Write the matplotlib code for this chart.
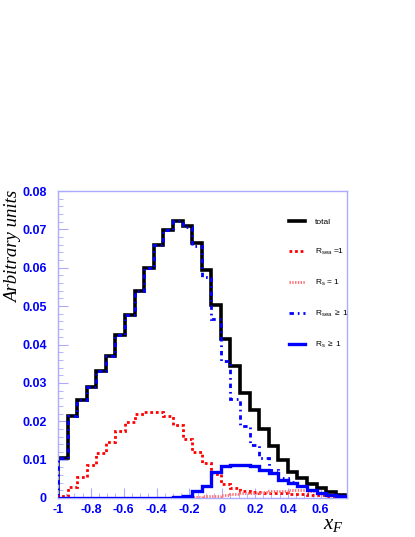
import matplotlib.pyplot as plt
import numpy as np
from matplotlib.ticker import MultipleLocator

# 30 bins of x_F from -1 to 0.75
edges = np.linspace(-1, 0.75, 31)

total = [0.0103, 0.0214, 0.0256, 0.0288, 0.0330, 0.0371, 0.0426, 0.0476, 0.0540, 0.0600,
         0.0659, 0.0699, 0.0723, 0.0709, 0.0664, 0.0594, 0.0504, 0.0415, 0.0343, 0.0273,
         0.0229, 0.0181, 0.0135, 0.0098, 0.0069, 0.0052, 0.0037, 0.0026, 0.0015, 0.0008]
sea_ge1 = [0.0103, 0.0214, 0.0256, 0.0288, 0.0330, 0.0371, 0.0426, 0.0476, 0.0540, 0.0600,
           0.0659, 0.0699, 0.0723, 0.0707, 0.0657, 0.0577, 0.0467, 0.0358, 0.0257, 0.0187,
           0.0139, 0.0105, 0.0074, 0.0051, 0.0041, 0.0031, 0.0021, 0.0014, 0.0009, 0.0006]
sea_eq1 = [0.0004, 0.0029, 0.0056, 0.0087, 0.0118, 0.0145, 0.0174, 0.0198, 0.0218, 0.0225,
           0.0225, 0.0214, 0.0189, 0.0153, 0.0120, 0.0091, 0.0063, 0.0037, 0.0026, 0.0017,
           0.0015, 0.0013, 0.0013, 0.0012, 0.0011, 0.0010, 0.0009, 0.0007, 0.0005, 0.0003]
s_eq1 = [0, 0, 0, 0, 0, 0, 0, 0, 0, 0,
         0, 0, 0.0001, 0.0001, 0.0002, 0.0004, 0.0006, 0.0008, 0.0010, 0.0012,
         0.0013, 0.0015, 0.0017, 0.0019, 0.0020, 0.0020, 0.0019, 0.0014, 0.0008, 0.0004]
s_ge1 = [0, 0, 0, 0, 0, 0, 0, 0, 0, 0,
         0, 0.0001, 0.0003, 0.0006, 0.0017, 0.0030, 0.0069, 0.0084, 0.0087, 0.0087,
         0.0083, 0.0074, 0.0065, 0.0048, 0.0039, 0.0030, 0.0020, 0.0013, 0.0008, 0.0006]

labels = ['total', r'R$_{\mathrm{sea}}$ =1', r'R$_{\mathrm{s}}$ = 1',
          r'R$_{\mathrm{sea}}$ $\geq$ 1', r'R$_{\mathrm{s}}$ $\geq$ 1']

plt.rcParams['font.family'] = ['Liberation Sans', 'DejaVu Sans']
plt.rcParams['mathtext.fontset'] = 'custom'
plt.rcParams['mathtext.it'] = 'Liberation Serif:italic'
plt.rcParams['mathtext.rm'] = 'Liberation Sans'

fig = plt.figure(figsize=(4.15, 5.37), dpi=100)
ax = fig.add_axes([58/415, 1 - 498/537, 289/415, 307/537])

h1 = ax.stairs(total, edges, color='black', lw=2.6, zorder=2)
h4 = ax.stairs(sea_ge1, edges, color='#0000ff', lw=2.0, ls=(0, (1.6, 1.4, 0.6, 1.4)), zorder=3)
h2 = ax.stairs(sea_eq1, edges, color='#ff0000', lw=2.0, ls=(0, (1, 1)), zorder=4)
h3 = ax.stairs(s_eq1, edges, color='#ff7070', lw=2.0, ls=(0, (0.5, 0.5)), zorder=4)
h5 = ax.stairs(s_ge1, edges, color='#0000ff', lw=2.4, zorder=5)

ax.set_xlim(-1, 0.76)
ax.set_ylim(0, 0.08)

blue = '#0000ff'
frame = '#aaaaff'
for s in ax.spines.values():
    s.set_color(frame)
    s.set_linewidth(1.0)

ax.xaxis.set_minor_locator(MultipleLocator(0.05))
ax.yaxis.set_minor_locator(MultipleLocator(0.002))
ax.tick_params(which='both', direction='in', color=frame, labelcolor=blue)
ax.tick_params(which='major', length=7)
ax.tick_params(which='minor', length=3.5)
ax.tick_params(axis='y', pad=8)
ax.tick_params(axis='x', pad=4)
ax.set_yticks(np.arange(0, 0.081, 0.01))
ax.set_yticklabels(['0', '0.01', '0.02', '0.03', '0.04', '0.05', '0.06', '0.07', '0.08'],
                   fontweight='bold', fontsize=9)
ax.set_xticks(np.arange(-1, 0.61, 0.2))
ax.set_xticklabels(['-1', '-0.8', '-0.6', '-0.4', '-0.2', '0', '0.2', '0.4', '0.6'],
                   fontweight='bold', fontsize=9)

fig.text(14/415, 1 - 191/537, 'Arbitrary units', rotation=90, ha='center', va='top',
         family='Liberation Serif', style='italic', fontsize=13.5)
fig.text(344/415, 1 - 534/537, r'$x_{F}$', ha='right', va='bottom', fontsize=15)

leg = ax.legend([h1, h2, h3, h4, h5], labels, loc='upper left',
                bbox_to_anchor=(228/289, 1 - 24/307), frameon=False, fontsize=6,
                handlelength=1.9, handletextpad=1.2, labelspacing=2.5, borderaxespad=0)

fig.savefig('out.png', dpi=100)
